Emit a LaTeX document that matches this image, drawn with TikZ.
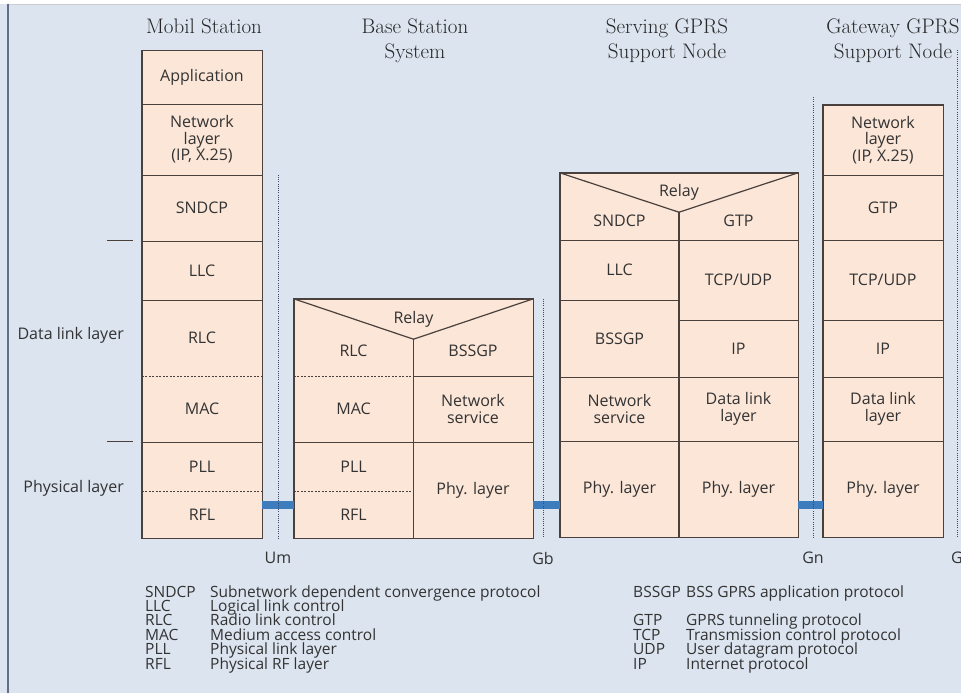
\documentclass[tikz,border=0pt]{standalone}
\usepackage{fontspec}
\setsansfont{Open Sans}
\usetikzlibrary{positioning}

\definecolor{bgblue}{HTML}{DCE4EF}
\definecolor{layerfill}{HTML}{FBE6D8}
\definecolor{layerline}{HTML}{4A403C}
\definecolor{linkblue}{HTML}{3D7DBD}
\definecolor{ifacecol}{HTML}{3A4A66}
\definecolor{txtgray}{HTML}{333333}

\newcommand{\lblfont}{\sffamily\fontsize{16}{16.5}\selectfont}
\newcommand{\legfont}{\sffamily\fontsize{15.5}{14.4}\selectfont}
\newcommand{\headfont}{\rmfamily\fontsize{21}{25}\selectfont}

\begin{document}
\begin{tikzpicture}[x=1pt, y=-1pt,
    cell/.style={fill=layerfill, inner sep=0pt, align=center, font=\lblfont, text=txtgray},
    frame/.style={draw=layerline, line width=1.4pt},
    sep/.style={draw=layerline, line width=1.2pt},
    dsep/.style={draw=layerline, line width=1pt, dash pattern=on 2pt off 1.5pt},
    link/.style={draw=linkblue, line width=8pt},
    iface/.style={draw=ifacecol, line width=0.9pt, dash pattern=on 1pt off 1.2pt},
    head/.style={font=\headfont, align=center, anchor=north, inner sep=0pt, text=black!85},
    side/.style={font=\lblfont, text=txtgray, anchor=base east, inner sep=0pt},
    ifl/.style={font=\lblfont, text=txtgray},
    legab/.style={font=\legfont, text=txtgray, anchor=base west, inner sep=0pt}
]
\useasboundingbox (0,0) rectangle (961,693);

% Background
\fill[bgblue] (0,0) rectangle (961,693);
\fill[white] (0,0) rectangle (961,4);
\draw[black!20, line width=0.8pt] (8,4) -- (961,4);
\draw[ifacecol!80, line width=2pt] (8,4) -- (8,693);

% Headings
\node[head] (ms-head) at (204,19) {Mobil Station};
\node[head] (bss-head) at (415,19) {Base Station\\System};
\node[head] (sg-head) at (667,19) {Serving GPRS\\Support Node};
\node[head] (gg-head) at (893,19) {Gateway GPRS\\Support Node};

% Mobil station stack
\node[cell, minimum width=120pt, minimum height=53pt] (ms-app) at (202,77.5) {Application};
\node[cell, minimum width=120pt, minimum height=71pt] (ms-net) at (202,139.5) {Network\\layer\\(IP, X.25)};
\node[cell, minimum width=120pt, minimum height=66pt] (ms-sndcp) at (202,208) {SNDCP};
\node[cell, minimum width=120pt, minimum height=59pt] (ms-llc) at (202,270.5) {LLC};
\node[cell, minimum width=120pt, minimum height=76pt] (ms-rlc) at (202,338) {RLC};
\node[cell, minimum width=120pt, minimum height=66pt] (ms-mac) at (202,409) {MAC};
\node[cell, minimum width=120pt, minimum height=49pt] (ms-pll) at (202,466.5) {PLL};
\node[cell, minimum width=120pt, minimum height=47pt] (ms-rfl) at (202,514.5) {RFL};

% Base station system stack
\node[cell, minimum width=119pt, minimum height=50pt] (bss-rlc) at (353.5,351) {RLC};
\node[cell, minimum width=119pt, minimum height=66pt] (bss-mac) at (353.5,409) {MAC};
\node[cell, minimum width=119pt, minimum height=49pt] (bss-pll) at (353.5,466.5) {PLL};
\node[cell, minimum width=119pt, minimum height=47pt] (bss-rfl) at (353.5,514.5) {RFL};
\node[cell, minimum width=120pt, minimum height=50pt] (bss-bssgp) at (473,351) {BSSGP};
\node[cell, minimum width=120pt, minimum height=66pt] (bss-ns) at (473,409) {Network\\service};
\node[cell, minimum width=120pt, minimum height=96pt] (bss-phy) at (473,490) {Phy. layer};
\node[cell, minimum width=239pt, minimum height=40pt] (bss-relay) at (413.5,319) {Relay};

% Serving GPRS support node stack
\node[cell, minimum width=119pt, minimum height=38pt] (sg-sndcp) at (619.5,221) {SNDCP};
\node[cell, minimum width=119pt, minimum height=60pt] (sg-llc) at (619.5,270) {LLC};
\node[cell, minimum width=119pt, minimum height=77pt] (sg-bssgp) at (619.5,338.5) {BSSGP};
\node[cell, minimum width=119pt, minimum height=64pt] (sg-ns) at (619.5,409) {Network\\service};
\node[cell, minimum width=119pt, minimum height=96pt] (sg-lphy) at (619.5,489) {Phy. layer};
\node[cell, minimum width=119pt, minimum height=38pt] (sg-gtp) at (738.5,221) {GTP};
\node[cell, minimum width=119pt, minimum height=80pt] (sg-tcp) at (738.5,280) {TCP/UDP};
\node[cell, minimum width=119pt, minimum height=57pt] (sg-ip) at (738.5,348.5) {IP};
\node[cell, minimum width=119pt, minimum height=64pt] (sg-dll) at (738.5,409) {Data link\\layer};
\node[cell, minimum width=119pt, minimum height=96pt] (sg-rphy) at (738.5,489) {Phy. layer};
\node[cell, minimum width=238pt, minimum height=39pt] (sg-relay) at (679,192.5) {Relay};

% Gateway GPRS support node stack
\node[cell, minimum width=120pt, minimum height=70pt] (gg-net) at (883,140) {Network\\layer\\(IP, X.25)};
\node[cell, minimum width=120pt, minimum height=65pt] (gg-gtp) at (883,207.5) {GTP};
\node[cell, minimum width=120pt, minimum height=80pt] (gg-tcp) at (883,280) {TCP/UDP};
\node[cell, minimum width=120pt, minimum height=57pt] (gg-ip) at (883,348.5) {IP};
\node[cell, minimum width=120pt, minimum height=64pt] (gg-dll) at (883,409) {Data link\\layer};
\node[cell, minimum width=120pt, minimum height=96pt] (gg-phy) at (883,489) {Phy. layer};

% Layer borders
\foreach \c in {app,net,sndcp,llc,mac}
  \draw[sep] (ms-\c.south west) -- (ms-\c.south east);
\foreach \c in {rlc,pll}
  \draw[dsep] (ms-\c.south west) -- (ms-\c.south east);
\draw[frame] (ms-app.north west) rectangle (ms-rfl.south east);

\draw[sep] (bss-mac.south west) -- (bss-mac.south east);
\foreach \c in {rlc,pll}
  \draw[dsep] (bss-\c.south west) -- (bss-\c.south east);
\foreach \c in {bssgp,ns}
  \draw[sep] (bss-\c.south west) -- (bss-\c.south east);
\draw[sep] (bss-relay.north west) -- (bss-relay.south) -- (bss-relay.north east);
\draw[sep] (bss-relay.south) -- (bss-relay.south |- bss-phy.south);
\draw[frame] (bss-relay.north west) rectangle (bss-phy.south east);

\foreach \c in {sndcp,llc,bssgp,ns,gtp,tcp,ip,dll}
  \draw[sep] (sg-\c.south west) -- (sg-\c.south east);
\draw[sep] (sg-relay.north west) -- (sg-relay.south) -- (sg-relay.north east);
\draw[sep] (sg-relay.south) -- (sg-relay.south |- sg-rphy.south);
\draw[frame] (sg-relay.north west) rectangle (sg-rphy.south east);

\foreach \c in {net,gtp,tcp,ip,dll}
  \draw[sep] (gg-\c.south west) -- (gg-\c.south east);
\draw[frame] (gg-net.north west) rectangle (gg-phy.south east);

% Radio and wired links
\coordinate (linky) at (0,505);
\draw[link] (ms-rfl.east |- linky) -- (bss-rfl.west |- linky);
\draw[link] (bss-phy.east |- linky) -- (sg-lphy.west |- linky);
\draw[link] (sg-rphy.east |- linky) -- (gg-phy.west |- linky);

% Interfaces
\node[ifl] (um) at (278,558) {Um};
\node[ifl] (gb) at (543,558) {Gb};
\node[ifl] (gn) at (813,558) {Gn};
\node[ifl] (gi) at (957,558) {G};
\draw[iface] (um |- ms-sndcp.north) -- (um |- ms-rfl.south);
\draw[iface] (gb |- bss-relay.north) -- (gb |- bss-phy.south);
\draw[iface] (gn |- 0,97) -- (gn |- gg-phy.south);
\draw[iface] (gi |- 0,50) -- (gi |- gg-phy.south);

% Side marks
\draw[sep] ([xshift=-35pt]ms-llc.north west) -- ([xshift=-9pt]ms-llc.north west);
\draw[sep] ([xshift=-35pt]ms-pll.north west) -- ([xshift=-9pt]ms-pll.north west);
\node[side] (dll-lbl) at (124,339) {Data link layer};
\node[side] (phy-lbl) at (124,492) {Physical layer};

% Legend
\foreach \ab/\txt [count=\i] in {SNDCP/Subnetwork dependent convergence protocol,
    LLC/Logical link control, RLC/Radio link control, MAC/Medium access control,
    PLL/Physical link layer, RFL/Physical RF layer}{
  \node[legab] (legl-ab\i) at (145,{582.6+14.4*\i}) {\ab};
  \node[legab] (legl-tx\i) at (210,{582.6+14.4*\i}) {\txt};
}
\foreach \ab/\txt/\r in {BSSGP/BSS GPRS application protocol/1,
    GTP/GPRS tunneling protocol/3, TCP/Transmission control protocol/4,
    UDP/User datagram protocol/5, IP/Internet protocol/6}{
  \node[legab] (legr-ab\r) at (633,{582.6+14.4*\r}) {\ab};
  \node[legab] (legr-tx\r) at (686,{582.6+14.4*\r}) {\txt};
}

\end{tikzpicture}
\end{document}
